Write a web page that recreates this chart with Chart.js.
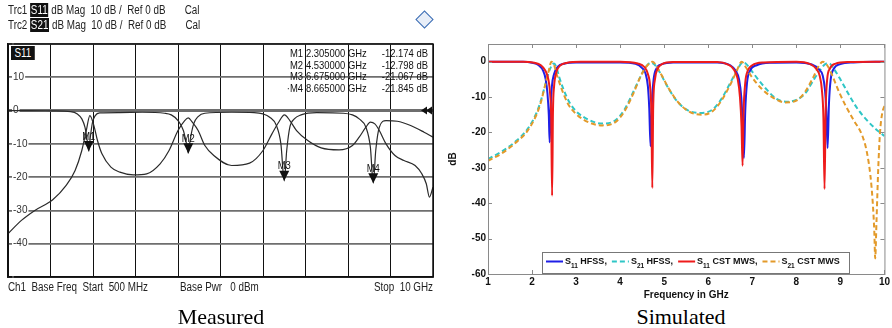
<!DOCTYPE html>
<html lang="en">
<head>
<meta charset="UTF-8">
<title>Measured / Simulated</title>
<script src="https://cdn.jsdelivr.net/npm/chart.js"></script>
<style>
  body { margin: 0; background: #fff; width: 892px; height: 328px; position: relative; overflow: hidden; }
  .abs { position: absolute; }
  .vna { font-family: "Liberation Sans", Arial, sans-serif; font-size: 12px; color: #222; white-space: pre; line-height: 13px; transform: scaleX(0.82); transform-origin: left top; }
  .vna.r { transform-origin: right top; }
  .inv { background: #111; color: #fff; padding: 0 1px; }
  .cap { font-family: "Liberation Serif", "Times New Roman", serif; font-size: 22px; color: #000; width: 200px; text-align: center; }
  .logo { width: 11px; height: 11px; border: 1.5px solid #3b6db4; transform: rotate(45deg); background: #e8eef8; }
</style>
</head>
<body>
<canvas id="measChart" class="abs" width="445" height="300" style="left:0;top:0"></canvas>
<canvas id="simChart" class="abs" width="447" height="304" style="left:445px;top:0"></canvas>

<div class="abs vna" style="left:8px;top:4px">Trc1 <span class="inv">S11</span> dB Mag  10 dB /  Ref 0 dB       Cal</div>
<div class="abs vna" style="left:8px;top:19px">Trc2 <span class="inv">S21</span> dB Mag  10 dB /  Ref 0 dB       Cal</div>
<div class="abs logo" style="left:418px;top:13px"></div>
<div class="abs vna" style="left:11px;top:47px"><span class="inv"> S11 </span></div>
<div class="abs vna" style="left:8px;top:281px">Ch1  Base Freq  Start  500 MHz</div>
<div class="abs vna" style="left:180px;top:281px">Base Pwr   0 dBm</div>
<div class="abs vna r" style="right:459px;top:281px">Stop  10 GHz</div>

<div class="abs cap" style="left:121px;top:304px">Measured</div>
<div class="abs cap" style="left:581px;top:304px">Simulated</div>

<script>
    // ---- measured (VNA screenshot), frequency in GHz, level in dB ----
    const measFreqS11 = [0.5, 1.0, 1.5, 1.9, 2.05, 2.15, 2.22, 2.27, 2.305, 2.34, 2.39, 2.45, 2.55, 3.0, 3.5, 4.0, 4.15, 4.3, 4.42, 4.49, 4.53, 4.57, 4.65, 4.75, 4.9, 5.5, 6.0, 6.2, 6.35, 6.5, 6.6, 6.675, 6.73, 6.8, 6.9, 7.05, 7.4, 8.0, 8.2, 8.35, 8.5, 8.6, 8.665, 8.72, 8.8, 8.95, 9.2, 9.5, 9.8, 10.0];
    const measS11     = [0, 0, -0.1, -0.3, -1, -2.5, -5, -9, -12.2, -8, -3.5, -1.5, -0.7, -0.6, -0.5, -0.8, -1.3, -3, -6, -10, -12.8, -9, -4, -1.8, -0.8, -0.5, -0.6, -1, -2, -4.5, -10, -21.1, -12, -5, -2.5, -1.3, -0.6, -0.8, -1.3, -2.5, -5, -11, -21.8, -12, -5, -3, -3.2, -4.5, -6.5, -8];
    const measFreqS21 = [0.5, 0.8, 1.1, 1.5, 1.8, 2.0, 2.15, 2.25, 2.33, 2.42, 2.5, 2.6, 2.8, 3.0, 3.3, 3.6, 3.9, 4.1, 4.3, 4.45, 4.53, 4.62, 4.75, 4.9, 5.1, 5.5, 5.9, 6.2, 6.4, 6.55, 6.68, 6.8, 6.95, 7.2, 7.5, 7.9, 8.2, 8.35, 8.5, 8.6, 8.7, 8.8, 8.95, 9.15, 9.35, 9.6, 9.75, 9.85, 9.92, 10.0];
    const measS21     = [-37, -33, -30, -26.8, -22.5, -18, -12, -6, -1.5, -4.5, -9, -13, -17, -18.5, -19.3, -19, -16, -12, -6, -3, -2.2, -3.5, -6, -10.5, -13.5, -16.5, -15.8, -12, -7, -3.5, -1.3, -3, -6, -9, -11.2, -11.8, -10.5, -8, -5, -3.5, -4, -6, -10, -13.5, -15, -16.5, -19, -22, -26, -23];
    const markerNames = ['M1', 'M2', 'M3', 'M4'];
    const markerFreq  = [2.305, 4.53, 6.675, 8.665];
    const markerDb    = [-12.174, -12.798, -21.067, -21.845];
    const measXTicks  = [0.5, 1.45, 2.4, 3.35, 4.3, 5.25, 6.2, 7.15, 8.1, 9.05, 10];
    const measYTicks  = [20, 10, 0, -10, -20, -30, -40, -50];

    // ---- simulated ----
    const freqS11Hfss = [1.0, 1.8, 2.0, 2.15, 2.25, 2.31, 2.35, 2.38, 2.40, 2.42, 2.45, 2.5, 2.58, 2.75, 3.0, 4.0, 4.35, 4.5, 4.58, 4.63, 4.66, 4.69, 4.72, 4.76, 4.82, 4.95, 5.2, 6.2, 6.5, 6.62, 6.7, 6.75, 6.78, 6.81, 6.84, 6.88, 6.95, 7.1, 7.4, 8.0, 8.35, 8.5, 8.6, 8.65, 8.68, 8.71, 8.74, 8.78, 8.85, 9.0, 9.3, 10];
    const s11Hfss     = [0, 0, -0.3, -1, -2.5, -5, -9, -15, -22.8, -14, -7, -3.5, -1.5, -0.5, -0.2, -0.2, -0.6, -1.8, -3.5, -7, -13, -23.9, -12, -5, -2, -0.7, -0.2, -0.2, -1, -2.5, -5, -10, -17, -27.2, -14, -6, -2.5, -1, -0.3, -0.2, -0.8, -2, -4, -8, -14, -24.4, -12, -5, -2, -0.7, -0.2, 0];
    const freqS21Hfss = [1.0, 1.3, 1.6, 1.9, 2.1, 2.2, 2.3, 2.38, 2.45, 2.5, 2.55, 2.62, 2.72, 2.85, 3.0, 3.3, 3.6, 3.9, 4.1, 4.3, 4.45, 4.58, 4.7, 4.78, 4.9, 5.05, 5.25, 5.5, 5.8, 6.1, 6.3, 6.5, 6.65, 6.78, 6.85, 6.95, 7.1, 7.3, 7.55, 7.8, 8.0, 8.2, 8.4, 8.55, 8.67, 8.75, 8.85, 9.0, 9.2, 9.4, 9.6, 9.8, 10];
    const s21Hfss     = [-27.5, -25.5, -22.8, -19, -14.5, -11, -6.5, -3, -1, -0.5, -1.5, -4.5, -8, -11.5, -14, -16.5, -17.5, -16.5, -13.5, -8.5, -4.5, -1.5, -0.3, -0.8, -3, -6.5, -10.5, -13.5, -14.5, -13.5, -10.5, -6, -2.5, -0.3, -0.5, -2, -4.5, -7.5, -10.5, -11.3, -10.8, -9, -5, -2.2, -0.6, -0.5, -2, -5, -9.5, -13.5, -16.5, -19, -21];
    const freqS11Cst  = [1.0, 1.8, 2.05, 2.2, 2.3, 2.37, 2.41, 2.435, 2.455, 2.475, 2.5, 2.55, 2.63, 2.8, 3.1, 4.0, 4.4, 4.55, 4.63, 4.68, 4.71, 4.73, 4.75, 4.79, 4.85, 4.95, 5.2, 6.2, 6.45, 6.58, 6.67, 6.72, 6.755, 6.78, 6.8, 6.84, 6.9, 7.0, 7.25, 8.0, 8.3, 8.45, 8.53, 8.58, 8.615, 8.64, 8.665, 8.7, 8.76, 8.88, 9.2, 10];
    const s11Cst      = [0, 0, -0.3, -1, -2.5, -5, -9, -16, -37.9, -14, -7, -3, -1.2, -0.3, 0, 0, -0.5, -1.5, -3.5, -7, -15, -35.7, -13, -5, -2, -0.7, -0.1, -0.1, -0.8, -2.2, -5, -10, -18, -29.4, -15, -6, -2.5, -1, -0.2, 0, -0.6, -2, -4, -8, -16, -36, -14, -5, -2, -0.6, -0.1, 0];
    const freqS21Cst  = [1.0, 1.3, 1.6, 1.9, 2.1, 2.2, 2.3, 2.38, 2.44, 2.5, 2.57, 2.68, 2.82, 3.0, 3.3, 3.6, 3.9, 4.1, 4.3, 4.47, 4.62, 4.74, 4.82, 4.95, 5.1, 5.3, 5.55, 5.85, 6.1, 6.3, 6.5, 6.65, 6.76, 6.85, 7.0, 7.2, 7.45, 7.75, 8.0, 8.2, 8.4, 8.52, 8.6, 8.7, 8.82, 8.95, 9.1, 9.3, 9.5, 9.6, 9.68, 9.73, 9.77, 9.79, 9.82, 9.86, 9.9, 9.95, 10];
    const s21Cst      = [-28, -26, -23.2, -19.5, -15, -11.5, -6.5, -2.5, 0, -1, -4, -8, -12, -14.8, -17.2, -18, -17, -14, -9, -4, -1, 0, -1.2, -4, -7.5, -11.2, -14, -15, -14, -11, -6.5, -2.5, 0, -1.5, -4.5, -7.5, -10, -11.5, -11, -8.5, -4, -1, 0, -1, -4, -8, -12, -16.5, -21, -25.5, -32, -39, -48, -55.6, -45, -30, -20, -14.5, -12.5];
    const simXTicks   = [1, 2, 3, 4, 5, 6, 7, 8, 9, 10];
    const simYTicks   = [0, -10, -20, -30, -40, -50, -60];
    const legendSub   = ['11', '21', '11', '21'];
    const legendRest  = [' HFSS,', ' HFSS,', ' CST MWS,', ' CST MWS'];

    function pts(xs, ys) {
        return xs.map((x, i) => ({ x: x, y: ys[i] }));
    }

    // VNA screen font is condensed: squeeze regular Liberation Sans
    function narrowText(ctx, text, x, y, align) {
        ctx.save();
        ctx.translate(x, y);
        ctx.scale(0.82, 1);
        ctx.textAlign = align;
        ctx.fillText(text, 0, 0);
        ctx.restore();
    }

    // markers, readout table, ref arrows, frame of the VNA screen
    const vnaPlugin = {
        id: 'vna',
        afterDatasetsDraw(chart) {
            const ctx = chart.ctx, xs = chart.scales.x, ys = chart.scales.y, a = chart.chartArea;
            ctx.save();
            ctx.fillStyle = '#111';
            ctx.font = '11.5px "Liberation Sans", Arial, sans-serif';
            ctx.textBaseline = 'bottom';
            markerFreq.forEach((f, i) => {
                const px = xs.getPixelForValue(f), py = ys.getPixelForValue(markerDb[i]);
                ctx.beginPath();
                ctx.moveTo(px, py);
                ctx.lineTo(px - 5, py - 10);
                ctx.lineTo(px + 5, py - 10);
                ctx.closePath();
                ctx.fill();
                narrowText(ctx, markerNames[i], px, py - 9, 'center');
            });
            // readout
            ctx.textBaseline = 'middle';
            markerNames.forEach((m, i) => {
                const ry = a.top + 10 + i * 11.6;
                narrowText(ctx, (i === 3 ? '\u00b7' : '') + m, 303, ry, 'right');
                narrowText(ctx, markerFreq[i].toFixed(6) + ' GHz', 306, ry, 'left');
                narrowText(ctx, markerDb[i].toFixed(3) + ' dB', a.right - 5, ry, 'right');
            });
            // reference level arrows
            const y0 = ys.getPixelForValue(0);
            [a.right - 1, a.right - 6].forEach(x => {
                ctx.beginPath();
                ctx.moveTo(x, y0 - 4);
                ctx.lineTo(x, y0 + 4);
                ctx.lineTo(x - 6, y0);
                ctx.closePath();
                ctx.fill();
            });
            ctx.strokeStyle = '#111';
            ctx.lineWidth = 1.5;
            ctx.strokeRect(a.left, a.top, a.right - a.left, a.bottom - a.top);
            ctx.restore();
        }
    };

    new Chart(document.getElementById('measChart'), {
        type: 'line',
        data: {
            datasets: [
                { label: 'S11', data: pts(measFreqS11, measS11), borderColor: '#2a2a2a', borderWidth: 1.2, pointRadius: 0, cubicInterpolationMode: 'monotone' },
                { label: 'S21', data: pts(measFreqS21, measS21), borderColor: '#2a2a2a', borderWidth: 1.2, pointRadius: 0, cubicInterpolationMode: 'monotone' }
            ]
        },
        options: {
            responsive: false,
            animation: false,
            layout: { padding: { left: 8, right: 12, top: 44, bottom: 23 } },
            plugins: { legend: { display: false }, tooltip: { enabled: false } },
            scales: {
                x: {
                    type: 'linear', min: 0.5, max: 10,
                    afterBuildTicks: s => { s.ticks = measXTicks.map(v => ({ value: v })); },
                    afterFit: s => { s.height = 0; },
                    ticks: { display: false },
                    grid: { color: '#111', lineWidth: 1, drawTicks: false },
                    border: { color: '#111', width: 1.5 }
                },
                y: {
                    min: -50, max: 20,
                    afterBuildTicks: s => { s.ticks = measYTicks.map(v => ({ value: v })); },
                    afterFit: s => { s.width = 0; },
                    ticks: {
                        mirror: true, padding: 5, color: '#333',
                        font: { family: '"Liberation Sans", Arial, sans-serif', size: 10 },
                        showLabelBackdrop: true, backdropColor: '#fff', backdropPadding: 1,
                        callback: v => (v === 20 || v === -50) ? '' : String(v)
                    },
                    grid: { color: '#6e6e6e', lineWidth: c => c.tick && c.tick.value === 0 ? 3 : 1.8, drawTicks: false },
                    border: { color: '#111', width: 1.5 }
                }
            }
        },
        plugins: [vnaPlugin]
    });

    // MATLAB-like frame: box, inward ticks, legend inside
    const simColors = ['#1f1fe6', '#2fc6c6', '#ee1b1b', '#e39a2a'];
    const matlabPlugin = {
        id: 'matlab',
        afterDraw(chart) {
            const ctx = chart.ctx, a = chart.chartArea, xs = chart.scales.x, ys = chart.scales.y;
            ctx.save();
            ctx.strokeStyle = '#8a8a8a';
            ctx.lineWidth = 1;
            ctx.strokeRect(a.left + 0.5, a.top + 0.5, a.right - a.left, a.bottom - a.top);
            ctx.beginPath();
            simXTicks.forEach(v => {
                const px = Math.round(xs.getPixelForValue(v)) + 0.5;
                ctx.moveTo(px, a.bottom); ctx.lineTo(px, a.bottom - 4);
                ctx.moveTo(px, a.top); ctx.lineTo(px, a.top + 4);
            });
            simYTicks.forEach(v => {
                const py = Math.round(ys.getPixelForValue(v)) + 0.5;
                ctx.moveTo(a.left, py); ctx.lineTo(a.left + 4, py);
                ctx.moveTo(a.right, py); ctx.lineTo(a.right - 4, py);
            });
            ctx.stroke();

            // legend
            const bx = 97, by = 252, bw = 307, bh = 21;
            ctx.fillStyle = '#fff';
            ctx.fillRect(bx, by, bw, bh);
            ctx.strokeStyle = '#777';
            ctx.strokeRect(bx + 0.5, by + 0.5, bw, bh);
            let x = bx + 4;
            const cy = by + bh / 2 - 1;
            chart.data.datasets.forEach((ds, i) => {
                ctx.strokeStyle = simColors[i];
                ctx.lineWidth = 2;
                ctx.setLineDash(ds.borderDash || []);
                ctx.beginPath();
                ctx.moveTo(x, cy); ctx.lineTo(x + 17, cy);
                ctx.stroke();
                ctx.setLineDash([]);
                x += 19;
                ctx.fillStyle = '#111';
                ctx.textBaseline = 'middle';
                ctx.textAlign = 'left';
                ctx.font = 'bold 9px "Liberation Sans", Arial, sans-serif';
                ctx.fillText('S', x, cy);
                x += ctx.measureText('S').width;
                ctx.font = 'bold 6.5px "Liberation Sans", Arial, sans-serif';
                ctx.fillText(legendSub[i], x, cy + 5);
                x += ctx.measureText(legendSub[i]).width;
                ctx.font = 'bold 9px "Liberation Sans", Arial, sans-serif';
                ctx.fillText(legendRest[i], x, cy);
                x += ctx.measureText(legendRest[i]).width + 5;
            });
            ctx.restore();
        }
    };

    const boldFont = { family: '"Liberation Sans", Arial, sans-serif', size: 10, weight: 'bold' };

    new Chart(document.getElementById('simChart'), {
        type: 'line',
        data: {
            datasets: [
                { label: 'S11 HFSS', data: pts(freqS11Hfss, s11Hfss), borderColor: simColors[0], borderWidth: 2, pointRadius: 0, cubicInterpolationMode: 'monotone', order: 2 },
                { label: 'S21 HFSS', data: pts(freqS21Hfss, s21Hfss), borderColor: simColors[1], borderWidth: 2, borderDash: [5, 3], pointRadius: 0, cubicInterpolationMode: 'monotone', order: 3 },
                { label: 'S11 CST MWS', data: pts(freqS11Cst, s11Cst), borderColor: simColors[2], borderWidth: 2, pointRadius: 0, cubicInterpolationMode: 'monotone', order: 0 },
                { label: 'S21 CST MWS', data: pts(freqS21Cst, s21Cst), borderColor: simColors[3], borderWidth: 2, borderDash: [5, 3], pointRadius: 0, cubicInterpolationMode: 'monotone', order: 1 }
            ]
        },
        options: {
            responsive: false,
            animation: false,
            layout: { padding: { left: 0, right: 6, top: 44, bottom: 0 } },
            plugins: { legend: { display: false }, tooltip: { enabled: false } },
            scales: {
                x: {
                    type: 'linear', min: 1, max: 10,
                    afterBuildTicks: s => { s.ticks = simXTicks.map(v => ({ value: v })); },
                    afterFit: s => { s.height = 30; },
                    ticks: { color: '#111', font: boldFont, padding: 2, maxRotation: 0 },
                    grid: { drawOnChartArea: false, drawTicks: false },
                    border: { display: false },
                    title: { display: true, text: 'Frequency in GHz', color: '#111', font: boldFont, padding: { top: 2, bottom: 3 } }
                },
                y: {
                    min: -60, max: 5,
                    afterBuildTicks: s => { s.ticks = simYTicks.map(v => ({ value: v })); },
                    afterFit: s => { s.width = 43; },
                    ticks: { color: '#111', font: boldFont, padding: 2 },
                    grid: { drawOnChartArea: false, drawTicks: false },
                    border: { display: false },
                    title: { display: true, text: 'dB', color: '#111', font: boldFont, padding: { top: 2, bottom: 2 } }
                }
            }
        },
        plugins: [matlabPlugin]
    });
</script>
</body>
</html>
